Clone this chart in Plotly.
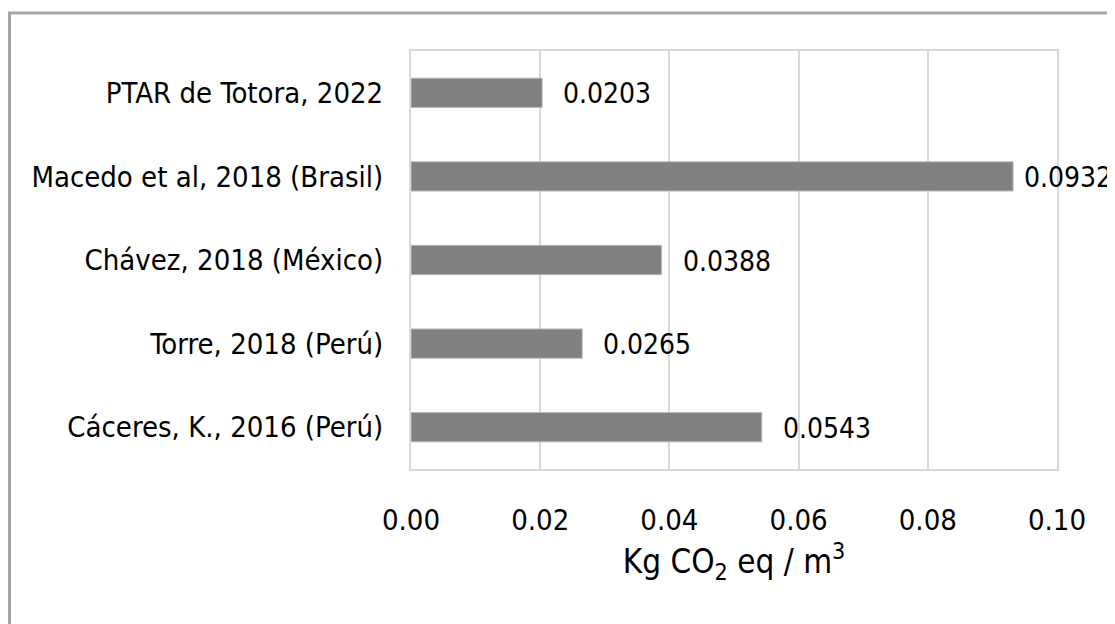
import plotly.graph_objects as go

categories = [
    "Cáceres, K., 2016 (Perú)",
    "Torre, 2018 (Perú)",
    "Chávez, 2018 (México)",
    "Macedo et al, 2018 (Brasil)",
    "PTAR de Totora, 2022",
]
values = [0.0543, 0.0265, 0.0388, 0.0932, 0.0203]
labels = ["0.0543", "0.0265", "0.0388", "0.0932", "0.0203"]
tick_vals = [0.00, 0.02, 0.04, 0.06, 0.08, 0.10]
tick_text = ["0.00", "0.02", "0.04", "0.06", "0.08", "0.10"]

FONT = "DejaVu Sans Condensed, DejaVu Sans, sans-serif"

fig = go.Figure()
fig.add_trace(go.Bar(
    y=categories,
    x=values,
    orientation="h",
    marker=dict(color="#808080", line=dict(color="#b8b8b8", width=1)),
    showlegend=False,
))

for v, c, t in zip(values, categories, labels):
    fig.add_annotation(x=v, y=c, text=t, showarrow=False, xanchor="left",
                       yanchor="middle", xshift=(9 if v > 0.09 else 19), yshift=-1,
                       font=dict(family=FONT, size=28, color="#000000"))

# page body adds an 8px offset; figure coordinates compensate for it
L, R, T, B = 403, 66, 43, 163
W, H = 1115, 624
pw, ph = W - L - R, H - T - B

def px(x):
    return (x - L) / pw

def py(y):
    return (H - B - y) / ph

fig.add_shape(type="rect", xref="paper", yref="paper",
              x0=px(1.5), x1=px(1130), y0=py(5), y1=py(640),
              line=dict(color="#a6a6a6", width=3), fillcolor="rgba(0,0,0,0)",
              layer="below")

fig.update_layout(
    width=W, height=H,
    margin=dict(l=L, r=R, t=T, b=B, pad=0, autoexpand=False),
    paper_bgcolor="white", plot_bgcolor="white",
    bargap=0.65,
    font=dict(family=FONT, size=29, color="#000000"),
)
fig.update_xaxes(
    range=[0, 0.10], tickvals=tick_vals, ticktext=tick_text,
    showgrid=True, gridcolor="#d9d9d9", gridwidth=2,
    showline=True, linecolor="#d9d9d9", linewidth=2, mirror=True,
    zeroline=False, ticks="", ticklabelstandoff=24, automargin=False,
    tickfont=dict(family=FONT, size=29, color="#000000"),
    title=dict(text="Kg CO<sub>2</sub> eq / m<sup>3</sup>",
               font=dict(family=FONT, size=33, color="#000000"), standoff=14),
)
fig.update_yaxes(
    showgrid=False, showline=True, linecolor="#d9d9d9", linewidth=2, mirror=True,
    ticks="", ticklabelstandoff=20, automargin=False,
    tickfont=dict(family=FONT, size=29, color="#000000"),
)

fig.write_html("out.html")
